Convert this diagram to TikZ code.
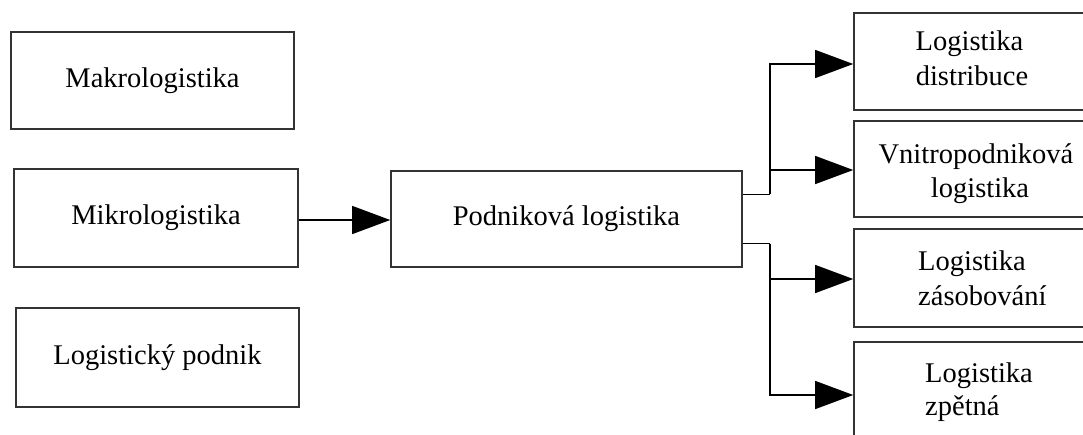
\documentclass[tikz,border=0pt]{standalone}
\usepackage{fontspec}
\setmainfont{Liberation Serif}
\usetikzlibrary{arrows.meta,calc}

\begin{document}
\begin{tikzpicture}[x=1pt,y=-1pt,
  box/.style={draw=black!80,line width=1.6pt,inner sep=0pt,
    font=\fontsize{28.5}{34}\selectfont},
  lbl/.style={inner sep=0pt,font=\fontsize{28.5}{34}\selectfont},
  conn/.style={draw=black,line width=1.3pt},
  arr/.style={conn,-{Triangle[length=38pt,width=28pt]}}]

\useasboundingbox (0,0) rectangle (1083,434);
\clip (0,0) rectangle (1083,434);

% left column
\node[box,minimum width=283pt,minimum height=97pt] (makro) at (152.5,80.5) {Makrologistika};
\node[box,minimum width=284pt,minimum height=98pt] (mikro) at (156,218) {Mikrologistika};
\node[box,minimum width=283pt,minimum height=99pt] (podnik) at (157.5,357.5) {Logistický podnik};

% central box
\node[box,minimum width=351pt,minimum height=96pt] (pod) at (566.5,219) {Podniková logistika};

% right column (boxes run past the right edge)
\node[box,minimum width=232pt,minimum height=97pt] (b1) at (970,61.5) {};
\node[box,minimum width=232pt,minimum height=96pt] (b2) at (970,169) {};
\node[box,minimum width=232pt,minimum height=98pt] (b3) at (970,278) {};
\node[box,minimum width=232pt,minimum height=98pt] (b4) at (970,391) {};

\node[lbl,anchor=base] (b1a) at (969.5,50) {Logistika};
\node[lbl,anchor=base] (b1b) at (972,85) {distribuce};
\node[lbl,anchor=base] (b2a) at (976,163) {Vnitropodniková};
\node[lbl,anchor=base] (b2b) at (980,197) {logistika};
\node[lbl,anchor=base west] (b3a) at (918,270) {Logistika};
\node[lbl,anchor=base west] (b3b) at (918,305) {zásobování};
\node[lbl,anchor=base west] (b4a) at (925,382) {Logistika};
\node[lbl,anchor=base west] (b4b) at (925,415) {zpětná};

% connectors
\draw[arr] ([yshift=-2pt]mikro.east) -- ([yshift=-2pt]mikro.east -| pod.west);

\coordinate (trunk) at (770,0);
\coordinate (outU) at ([yshift=-24pt]pod.north east);
\coordinate (outL) at ([yshift=24pt]pod.south east);

\draw[conn] (outU) -- (outU -| trunk);
\draw[arr] (outU -| trunk) |- ([yshift=-2.5pt]b1.west);
\draw[arr] (outU -| trunk) |- ([yshift=-1pt]b2.west);

\draw[conn] (outL) -- (outL -| trunk);
\draw[arr] (outL -| trunk) |- ([yshift=-1pt]b3.west);
\draw[arr] (outL -| trunk) |- ([yshift=-4pt]b4.west);
\end{tikzpicture}
\end{document}
